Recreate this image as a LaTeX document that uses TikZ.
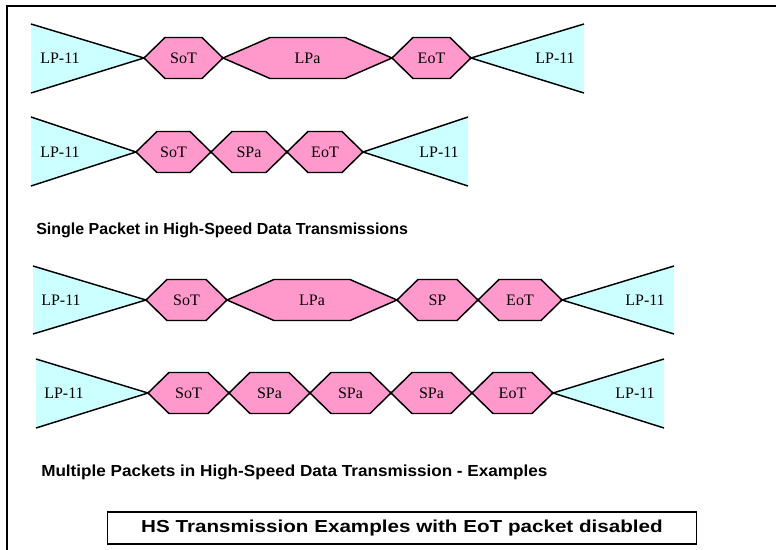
\documentclass[tikz,border=0pt]{standalone}
\usepackage{fontspec}
\setmainfont{Liberation Serif}
\setsansfont{Liberation Sans}
\usetikzlibrary{positioning}
\definecolor{lpcyan}{HTML}{CCFFFF}
\definecolor{pktpink}{HTML}{FF99CC}
\tikzset{
  lpfill/.style={fill=lpcyan},
  lpedge/.style={line width=1.1pt},
  pkt/.style={draw=black,fill=pktpink,line width=1.1pt,line join=miter},
  pktlabel/.style={font=\fontsize{12}{14}\selectfont,inner sep=0pt},
  caption/.style={font=\sffamily\bfseries\fontsize{12}{14}\selectfont,anchor=west,inner sep=0pt},
  hsbox/.style={draw=black,line width=1.1pt,minimum width=442pt,minimum height=24pt,inner sep=0pt,
    font=\sffamily\bfseries\fontsize{13}{15}\selectfont},
}

\begin{document}
\begin{tikzpicture}[x=0.75pt,y=-0.75pt]
    \useasboundingbox (0,0) rectangle (776,550);
    % frame
    \draw[line width=1.3pt] (7,550) -- (7,6) -- (776,6);

    % row 1: SoT LPa EoT
    \fill[lpfill] (31,24) -- (144,58) -- (31,93) -- cycle;
    \draw[lpedge] (31,24) -- (144,58) -- (31,93);
    \node[pktlabel,anchor=west] (lpl1) at (40,58) {LP-11};
    \foreach \xa/\xb/\sl/\txt [count=\i] in {144/223/21/SoT, 223/392/47/LPa, 392/471/21/EoT} {
        \draw[pkt] (\xa,58) -- (\xa+\sl,37.5) -- (\xb-\sl,37.5) -- (\xb,58) -- (\xb-\sl,78.5) -- (\xa+\sl,78.5) -- cycle;
        \node[pktlabel] (ra\i) at ({(\xa+\xb)/2},58) {\txt};
    }
    \fill[lpfill] (584,24) -- (471,58) -- (584,93) -- cycle;
    \draw[lpedge] (584,24) -- (471,58) -- (584,93);
    \node[pktlabel,anchor=east] (lpr1) at (575,58) {LP-11};

    % row 2: SoT SPa EoT
    \fill[lpfill] (31,117) -- (136,152) -- (31,186) -- cycle;
    \draw[lpedge] (31,117) -- (136,152) -- (31,186);
    \node[pktlabel,anchor=west] (lpl2) at (40,152) {LP-11};
    \foreach \xa/\xb/\sl/\txt [count=\i] in {136/211/21/SoT, 211/287/21/SPa, 287/363/21/EoT} {
        \draw[pkt] (\xa,152) -- (\xa+\sl,131.5) -- (\xb-\sl,131.5) -- (\xb,152) -- (\xb-\sl,172.5) -- (\xa+\sl,172.5) -- cycle;
        \node[pktlabel] (rb\i) at ({(\xa+\xb)/2},152) {\txt};
    }
    \fill[lpfill] (468,117) -- (363,152) -- (468,186) -- cycle;
    \draw[lpedge] (468,117) -- (363,152) -- (468,186);
    \node[pktlabel,anchor=east] (lpr2) at (459,152) {LP-11};

    \node[caption] (single) at (36,230) {Single Packet in High-Speed Data Transmissions};

    % row 3: SoT LPa SP EoT
    \fill[lpfill] (33,266) -- (146,300) -- (33,334) -- cycle;
    \draw[lpedge] (33,266) -- (146,300) -- (33,334);
    \node[pktlabel,anchor=west] (lpl3) at (41,300) {LP-11};
    \foreach \xa/\xb/\sl/\txt [count=\i] in {146/227/21/SoT, 227/397/47/LPa, 397/478/21/SP, 478/562/21/EoT} {
        \draw[pkt] (\xa,300) -- (\xa+\sl,279.5) -- (\xb-\sl,279.5) -- (\xb,300) -- (\xb-\sl,320.5) -- (\xa+\sl,320.5) -- cycle;
        \node[pktlabel] (rc\i) at ({(\xa+\xb)/2},300) {\txt};
    }
    \fill[lpfill] (674,266) -- (562,300) -- (674,334) -- cycle;
    \draw[lpedge] (674,266) -- (562,300) -- (674,334);
    \node[pktlabel,anchor=east] (lpr3) at (665,300) {LP-11};

    % row 4: SoT SPa SPa SPa EoT
    \fill[lpfill] (36,359) -- (148,393) -- (36,428) -- cycle;
    \draw[lpedge] (36,359) -- (148,393) -- (36,428);
    \node[pktlabel,anchor=west] (lpl4) at (44,393) {LP-11};
    \foreach \xa/\xb/\sl/\txt [count=\i] in {148/229/21/SoT, 229/310/21/SPa, 310/391/21/SPa, 391/472/21/SPa, 472/553/21/EoT} {
        \draw[pkt] (\xa,393) -- (\xa+\sl,372.5) -- (\xb-\sl,372.5) -- (\xb,393) -- (\xb-\sl,413.5) -- (\xa+\sl,413.5) -- cycle;
        \node[pktlabel] (rd\i) at ({(\xa+\xb)/2},393) {\txt};
    }
    \fill[lpfill] (664,359) -- (553,393) -- (664,428) -- cycle;
    \draw[lpedge] (664,359) -- (553,393) -- (664,428);
    \node[pktlabel,anchor=east] (lpr4) at (655,393) {LP-11};

    \node[caption] (multi) at (41,472) {\scalebox{1.07}[1]{Multiple Packets in High-Speed Data Transmission - Examples}};

    \node[hsbox] (hs) at (402,528) {\scalebox{1.19}[1]{HS Transmission Examples with EoT packet disabled}};
\end{tikzpicture}
\end{document}
